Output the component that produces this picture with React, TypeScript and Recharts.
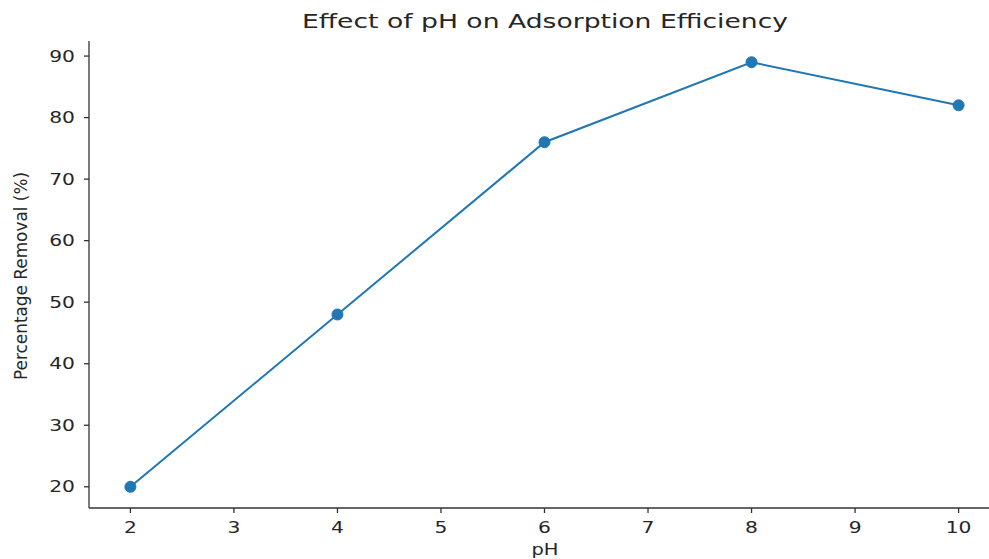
import React from 'react';
import { LineChart, Line, XAxis, YAxis, Label } from 'recharts';

const phValues = [2, 4, 6, 8, 10];
const removalPct = [20, 48, 76, 89, 82];
const xTicks = [2, 3, 4, 5, 6, 7, 8, 9, 10];
const yTicks = [20, 30, 40, 50, 60, 70, 80, 90];

const data = phValues.map((ph, i) => ({ ph, removal: removalPct[i] }));

const textColor = '#262626';
const font = '"DejaVu Sans", sans-serif';

function XTick({ x, y, payload }: any) {
  return (
    <text
      transform={`translate(${x},${y + 18}) scale(1.35,1)`}
      textAnchor="middle"
      fontSize={15}
      fontFamily={font}
      fill={textColor}
    >
      {payload.value}
    </text>
  );
}

function YTick({ x, y, payload }: any) {
  return (
    <text
      transform={`translate(${x - 7},${y + 5.5}) scale(1.35,1)`}
      textAnchor="end"
      fontSize={15}
      fontFamily={font}
      fill={textColor}
    >
      {payload.value}
    </text>
  );
}

export default function App() {
  return (
    <div style={{ position: 'absolute', top: 0, left: 0, width: 989, height: 559, overflow: 'hidden', background: '#fff' }}>
      <div
        style={{
          position: 'absolute',
          top: 9,
          left: 545,
          transform: 'translateX(-50%) scaleX(1.33)',
          whiteSpace: 'nowrap',
          fontFamily: font,
          fontSize: 20,
          color: textColor,
        }}
      >
        Effect of pH on Adsorption Efficiency
      </div>
      <LineChart width={1012} height={559} data={data} margin={{ top: 41, right: 12, bottom: 0, left: 0 }}>
        <XAxis
          dataKey="ph"
          type="number"
          domain={[1.6, 10.4]}
          ticks={xTicks}
          height={51}
          stroke="#333"
          strokeWidth={1.3}
          tickSize={5}
          tick={<XTick />}
          interval={0}
        >
          <Label
            content={() => (
              <text
                transform="translate(545,555) scale(1.3,1)"
                textAnchor="middle"
                fontSize={15}
                fontFamily={font}
                fill={textColor}
              >
                pH
              </text>
            )}
          />
        </XAxis>
        <XAxis
          xAxisId="top"
          orientation="top"
          type="number"
          domain={[1.6, 10.4]}
          height={0}
          tick={false}
          tickLine={false}
          stroke="#333"
          strokeWidth={1.3}
        />
        <YAxis
          type="number"
          domain={[16.55, 92.45]}
          ticks={yTicks}
          width={89}
          stroke="#333"
          strokeWidth={1.3}
          tickSize={5}
          tick={<YTick />}
          interval={0}
        >
          <Label
            content={() => (
              <text
                transform="translate(27,276) rotate(-90) scale(1,1.3)"
                textAnchor="middle"
                fontSize={14}
                fontFamily={font}
                fill={textColor}
                textLength={208}
                lengthAdjust="spacingAndGlyphs"
              >
                Percentage Removal (%)
              </text>
            )}
          />
        </YAxis>
        <Line
          dataKey="removal"
          stroke="#1f77b4"
          strokeWidth={2}
          dot={{ r: 5.5, fill: '#1f77b4', stroke: '#1f77b4', strokeWidth: 1 }}
          isAnimationActive={false}
        />
      </LineChart>
    </div>
  );
}
